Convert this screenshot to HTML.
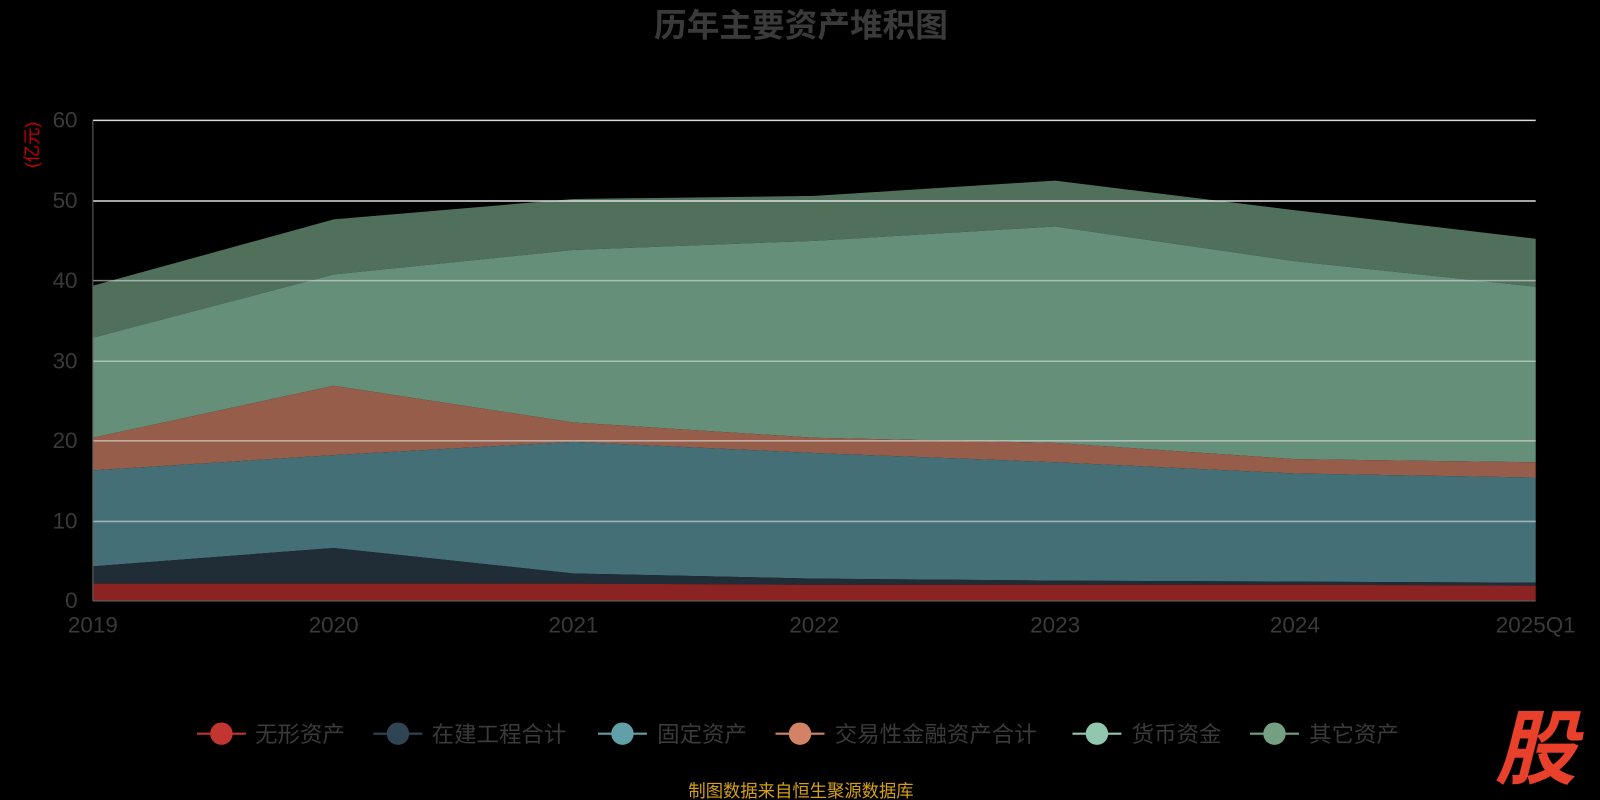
<!DOCTYPE html>
<html><head><meta charset="utf-8"><style>
html,body{margin:0;padding:0;background:#000;}
svg{display:block;font-family:"Liberation Sans","Noto Sans CJK SC",sans-serif;}
</style></head><body>
<svg width="1600" height="800" viewBox="0 0 1568 784">
<rect width="1568" height="784" fill="#000"/>
<text x="785" y="36" text-anchor="middle" font-size="32" font-weight="bold" fill="#3a3a3a">历年主要资产堆积图</text>
<text transform="translate(37,142) rotate(-90)" text-anchor="middle" font-size="17" fill="#c00">(亿元)</text>
<polygon fill="#50705c" points="91,280 327,215 562,195 798,192 1034,177 1269,206 1505,234 1505,281 1269,256 1034,222 798,236 562,245 327,269 91,331"/>
<polygon fill="#668f7a" points="91,331 327,269 562,245 798,236 1034,222 1269,256 1505,281 1505,453 1269,450 1034,434 798,429 562,414 327,378 91,429"/>
<polygon fill="#955d4a" points="91,429 327,378 562,414 798,429 1034,434 1269,450 1505,453 1505,468 1269,464 1034,453 798,444 562,433 327,446 91,461"/>
<polygon fill="#446f76" points="91,461 327,446 562,433 798,444 1034,453 1269,464 1505,468 1505,571 1269,570 1034,569 798,567 562,562 327,537 91,555"/>
<polygon fill="#202d36" points="91,555 327,537 562,562 798,567 1034,569 1269,570 1505,571 1505,574 1269,573 1034,573 798,573 562,572 327,572 91,572"/>
<polygon fill="#8b2323" points="91,572 327,572 562,572 798,573 1034,573 1269,573 1505,574 1505,589 91,589"/>
<g stroke-width="1.5">
<line x1="91" x2="1505" y1="118" y2="118" stroke="#ddd"/>
<line x1="91" x2="1505" y1="197" y2="197" stroke="#ddd"/>
<line x1="91" x2="1505" y1="275" y2="275" stroke="#ddd" stroke-opacity="0.6"/>
<line x1="91" x2="1505" y1="354" y2="354" stroke="#ddd" stroke-opacity="0.6"/>
<line x1="91" x2="1505" y1="432" y2="432" stroke="#ddd" stroke-opacity="0.6"/>
<line x1="91" x2="1505" y1="511" y2="511" stroke="#ddd" stroke-opacity="0.6"/>
</g>
<line x1="91" x2="91" y1="118" y2="589" stroke="#666"/>
<line x1="91" x2="1505" y1="589" y2="589" stroke="#666"/>
<g font-size="22" fill="#3a3a3a" text-anchor="end">
<text x="76" y="125">60</text><text x="76" y="204">50</text><text x="76" y="282">40</text>
<text x="76" y="361">30</text><text x="76" y="439">20</text><text x="76" y="518">10</text><text x="76" y="596">0</text>
</g>
<g font-size="22" fill="#3a3a3a" text-anchor="middle">
<text x="91" y="620">2019</text><text x="327" y="620">2020</text><text x="562" y="620">2021</text>
<text x="798" y="620">2022</text><text x="1034" y="620">2023</text><text x="1269" y="620">2024</text><text x="1505" y="620">2025Q1</text>
</g>
<g font-size="22" fill="#3a3a3a">
<line x1="193" x2="241" y1="719" y2="719" stroke="#c23531" stroke-width="2"/><circle cx="217" cy="719" r="11" fill="#c23531"/><text x="250" y="727">无形资产</text>
<line x1="366" x2="414" y1="719" y2="719" stroke="#2f4554" stroke-width="2"/><circle cx="390" cy="719" r="11" fill="#2f4554"/><text x="423" y="727">在建工程合计</text>
<line x1="586" x2="634" y1="719" y2="719" stroke="#61a0a8" stroke-width="2"/><circle cx="610" cy="719" r="11" fill="#61a0a8"/><text x="644" y="727">固定资产</text>
<line x1="760" x2="808" y1="719" y2="719" stroke="#d48265" stroke-width="2"/><circle cx="784" cy="719" r="11" fill="#d48265"/><text x="818" y="727">交易性金融资产合计</text>
<line x1="1051" x2="1099" y1="719" y2="719" stroke="#91c7ae" stroke-width="2"/><circle cx="1075" cy="719" r="11" fill="#91c7ae"/><text x="1109" y="727">货币资金</text>
<line x1="1225" x2="1273" y1="719" y2="719" stroke="#749f83" stroke-width="2"/><circle cx="1249" cy="719" r="11" fill="#749f83"/><text x="1283" y="727">其它资产</text>
</g>
<text x="785" y="781" text-anchor="middle" font-size="17" fill="#d4a017">制图数据来自恒生聚源数据库</text>
<text x="1505" y="762" text-anchor="middle" font-size="80" font-weight="bold" font-style="italic" fill="#e8402a">股</text>
</svg>
</body></html>
